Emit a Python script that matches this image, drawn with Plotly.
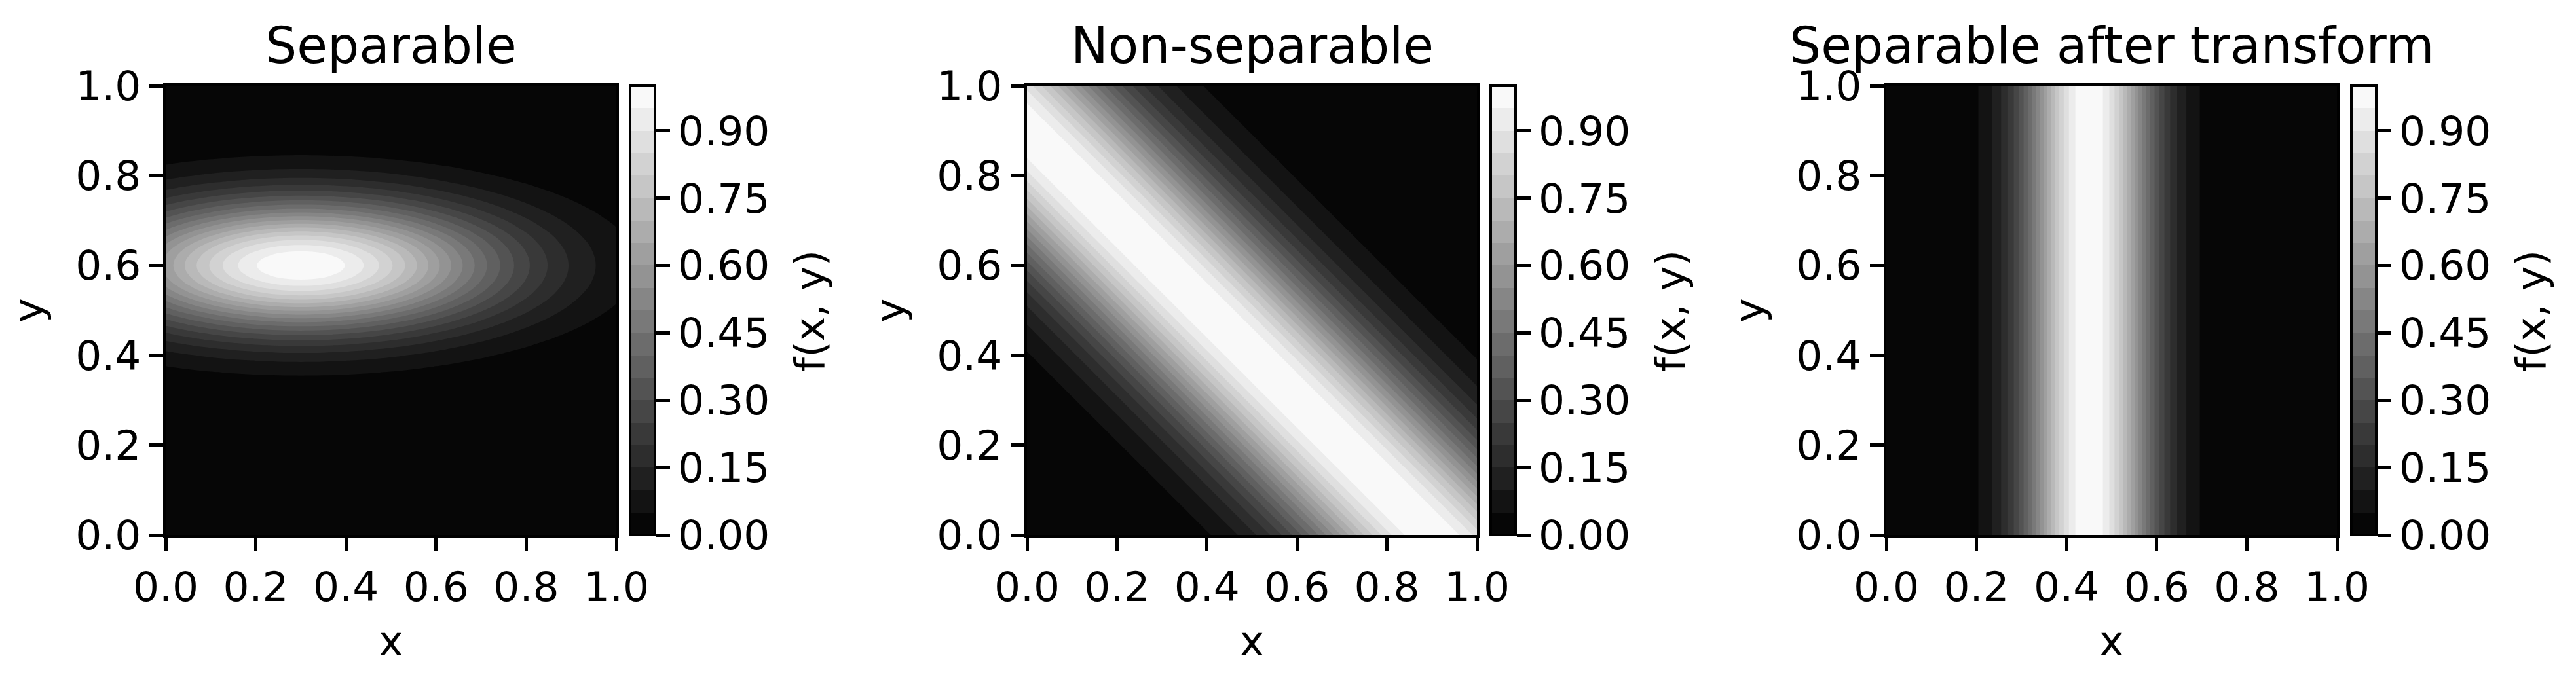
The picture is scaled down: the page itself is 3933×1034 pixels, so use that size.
import plotly.graph_objects as go

W, H = 3933, 1034

titles = ["Separable", "Non-separable", "Separable after transform"]
tick_vals = [0.0, 0.2, 0.4, 0.6, 0.8, 1.0]
cbar_ticks = [0.0, 0.15, 0.30, 0.45, 0.60, 0.75, 0.90]

# Separable panel: profiles read along the ridge lines through the peak
sep_x = [i * 0.025 for i in range(41)]
sep_x_profile = [.616, .666, .715, .762, .806, .848, .886, .919, .948, .970, .987, .997,
                 1.0,
                 .997, .987, .970, .948, .919, .886, .848, .806, .762, .715, .666, .616,
                 .567, .517, .470, .423, .379, .337, .297, .261, .227, .197, .169, .144,
                 .122, .103, .086, .072]
sep_y = [i * 0.0125 for i in range(81)]
sep_y_profile = [0, 0, 0, 0, 0, 0, 0, 0, 0, 0, 0, 0, 0, 0, 0, 0, 0, 0,
                 .001, .001, .002, .003, .005, .008, .011, .016, .023, .032, .044, .060,
                 .080, .105, .135, .172, .216, .267, .325, .389, .458, .531, .607, .682,
                 .755, .823, .882, .932, .969, .992,
                 1.0,
                 .992, .969, .932, .882, .823, .755, .682, .607, .531, .458, .389, .325,
                 .267, .216, .172, .135, .105, .080, .060, .044, .032, .023, .016, .011,
                 .008, .005, .003, .002, .001, .001, 0, 0]

# Non-separable panel: values read across the diagonal band, by x + y
ns_axis = [i * 0.05 for i in range(21)]
ns_band = [0, 0, 0, .001, .002, .005, .011, .023, .044, .080, .135, .216, .325, .458,
           .607, .755, .882, .969, 1.0, .969, .882, .755, .607, .458, .325, .216, .135,
           .080, .044, .023, .011, .005, .002, .001, 0, 0, 0, 0, 0, 0, 0]

# Third panel: values read across the vertical band
tr_x = [i * 0.025 for i in range(41)]
tr_y = [0.0, 1.0]
tr_profile = [0, 0, 0, .001, .002, .005, .011, .023, .044, .080, .135, .216, .325, .458,
              .607, .755, .882, .969, 1.0, .969, .882, .755, .607, .458, .325, .216, .135,
              .080, .044, .023, .011, .005, .002, .001, 0, 0, 0, 0, 0, 0, 0]

z1 = [[gy * gx for gx in sep_x_profile] for gy in sep_y_profile]
z2 = [[ns_band[i + j] for i in range(21)] for j in range(21)]
z3 = [tr_profile, tr_profile]

panels = [
    dict(x=sep_x, y=sep_y, z=z1, ax=(253, 941), cb=(962, 1000), smooth=1.0),
    dict(x=ns_axis, y=ns_axis, z=z2, ax=(1568, 2255), cb=(2276, 2314), smooth=0),
    dict(x=tr_x, y=tr_y, z=z3, ax=(2880, 3568), cb=(3590, 3628), smooth=0),
]
TOP, BOT = 131, 817
FONT = "DejaVu Sans"
TICK_SIZE = 63
TITLE_SIZE = 76

fig = go.Figure()
annotations = []
for n, p in enumerate(panels):
    suf = "" if n == 0 else str(n + 1)
    fig.add_trace(go.Contour(
        x=p["x"], y=p["y"], z=p["z"], xaxis="x" + suf, yaxis="y" + suf,
        zmin=0, zmax=1, autocontour=False,
        colorscale=[[0, "#000000"], [1, "#ffffff"]],
        contours=dict(start=-1e-6, end=1, size=0.05, coloring="fill", showlines=False),
        line=dict(width=0, smoothing=p["smooth"]),
        hoverinfo="skip",
        colorbar=dict(
            x=p["cb"][0] / W, xanchor="left", xpad=0, ypad=0,
            y=(H - BOT) / H, yanchor="bottom",
            len=BOT - TOP, lenmode="pixels",
            thickness=p["cb"][1] - p["cb"][0], thicknessmode="pixels",
            outlinecolor="black", outlinewidth=4,
            tickmode="array", tickvals=cbar_ticks, tickformat=".2f",
            ticks="outside", ticklen=21, tickwidth=5, tickcolor="black",
            tickfont=dict(family=FONT, size=TICK_SIZE, color="black"),
        ),
    ))
    common = dict(
        range=[0, 1], tickmode="array", tickvals=tick_vals, tickformat=".1f",
        ticks="outside", ticklen=21, tickwidth=5, tickcolor="black",
        showline=True, linecolor="black", linewidth=4, mirror=True,
        showgrid=False, zeroline=False,
        tickfont=dict(family=FONT, size=TICK_SIZE, color="black"),
    )
    fig.layout["xaxis" + suf] = go.layout.XAxis(
        domain=[p["ax"][0] / W, p["ax"][1] / W], anchor="y" + suf,
        title=dict(text="x", font=dict(family=FONT, size=TICK_SIZE, color="black"), standoff=26), **common)
    fig.layout["yaxis" + suf] = go.layout.YAxis(
        domain=[(H - BOT) / H, (H - TOP) / H], anchor="x" + suf,
        title=dict(text="y", font=dict(family=FONT, size=TICK_SIZE, color="black"), standoff=30), **common)
    annotations.append(dict(
        text=titles[n], xref="paper", yref="paper", showarrow=False,
        x=sum(p["ax"]) / 2 / W, y=(H - 70) / H, xanchor="center", yanchor="middle",
        font=dict(family=FONT, size=TITLE_SIZE, color="black")))
    annotations.append(dict(
        text="f(x, y)", xref="paper", yref="paper", showarrow=False, textangle=-90,
        x=(p["cb"][1] + 236) / W, y=(H - 475) / H, xanchor="center", yanchor="middle",
        font=dict(family=FONT, size=TICK_SIZE, color="black")))

fig.update_layout(
    width=W, height=H, autosize=False,
    margin=dict(l=0, r=0, t=0, b=0, autoexpand=False),
    paper_bgcolor="white", plot_bgcolor="white",
    showlegend=False, annotations=annotations,
)
fig.write_html("out.html", config=dict(displayModeBar=False),
               post_script="document.body.style.margin='0';")
